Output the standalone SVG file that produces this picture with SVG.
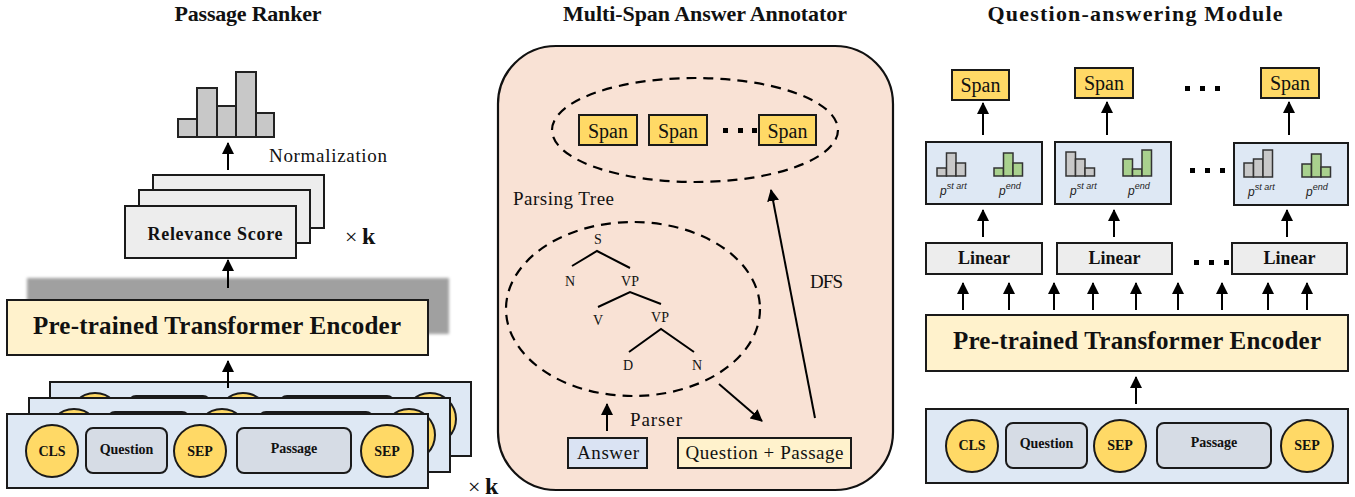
<svg xmlns="http://www.w3.org/2000/svg" width="1355" height="497" viewBox="0 0 1355 497">
<style>
  text { font-family: "Liberation Serif", "Times New Roman", serif; fill: #111; }
  .title { font-size: 22px; font-weight: bold; text-anchor: middle; }
  .enc { font-size: 25px; font-weight: bold; text-anchor: middle; }
  .bold15 { font-size: 18px; font-weight: bold; text-anchor: middle; }
  .lbl { font-size: 19px; }
  .tok { font-size: 14px; font-weight: bold; text-anchor: middle; }
  .tree { font-size: 14px; text-anchor: middle; }
  .span { font-size: 20px; text-anchor: middle; }
  .p { font-family: "Liberation Sans", Arial, sans-serif; font-style: italic; font-size: 12px; fill: #222; }
  .box { stroke: #1a1a1a; stroke-width: 2; }
  .yellow { fill: #FFD966; }
  .blue { fill: #DEE8F4; }
  .cream { fill: #FFF2CC; }
  .gray { fill: #EDEDED; }
  .tokrect { fill: #D6DCE5; stroke: #1a1a1a; stroke-width: 2; }
  .circ { fill: #FFD966; stroke: #1a1a1a; stroke-width: 2; }
  .arrow { stroke: #000; stroke-width: 2; fill: none; marker-end: url(#ah); }
  .dash { fill: none; stroke: #000; stroke-width: 2.2; stroke-dasharray: 10 7; }
  .gbar { fill: #C8C8C8; stroke: #333; stroke-width: 1.5; }
  .grbar { fill: #A9D18E; stroke: #333; stroke-width: 1.5; }
  .hbar { fill: #C8C8C8; stroke: #222; stroke-width: 2; }
  .dot { fill: #000; }
</style>
<defs>
  <marker id="ah" viewBox="0 0 12 12" markerWidth="12" markerHeight="12" refX="11" refY="6" orient="auto" markerUnits="userSpaceOnUse">
    <path d="M0,0 L12,6 L0,12 z" fill="#000"/>
  </marker>
  <filter id="blur" x="-10%" y="-30%" width="120%" height="160%">
    <feGaussianBlur stdDeviation="1.5"/>
  </filter>
  <g id="row">
    <circle class="circ" cx="45" cy="37" r="26"/>
    <rect class="tokrect" x="79" y="14" width="81" height="45" rx="7"/>
    <circle class="circ" cx="193" cy="37" r="26"/>
    <rect class="tokrect" x="230" y="14" width="114" height="45" rx="7"/>
    <circle class="circ" cx="380" cy="37" r="26"/>
  </g>
</defs>

<!-- Titles -->
<text class="title" x="248" y="21" textLength="147">Passage Ranker</text>
<text class="title" x="705" y="21" textLength="284">Multi-Span Answer Annotator</text>
<text class="title" x="1135" y="21" textLength="295">Question-answering Module</text>

<!-- ===== Left: Passage Ranker ===== -->
<g id="histogram">
  <rect class="hbar" x="178" y="119" width="19" height="18"/>
  <rect class="hbar" x="197" y="88" width="20" height="49"/>
  <rect class="hbar" x="217" y="106" width="19" height="31"/>
  <rect class="hbar" x="236" y="72" width="20" height="65"/>
  <rect class="hbar" x="256" y="113" width="18" height="24"/>
</g>
<text class="lbl" x="269" y="162" textLength="118">Normalization</text>

<g id="relevance">
  <rect class="box gray" x="153" y="175" width="171" height="53"/>
  <rect class="box gray" x="139" y="190" width="171" height="53"/>
  <rect class="box gray" x="125" y="206" width="171" height="52"/>
  <text class="bold15" x="215" y="240" textLength="135">Relevance Score</text>
</g>
<text x="345" y="244" style="font-size:22px">×</text>
<text x="362" y="244" style="font-size:24px;font-weight:bold">k</text>

<rect x="27" y="278" width="422" height="56" fill="#A0A0A0" filter="url(#blur)"/>
<g id="encoder-left">
  <rect class="box cream" x="7" y="300" width="421" height="55"/>
  <text class="enc" x="217" y="334" textLength="368">Pre-trained Transformer Encoder</text>
</g>

<g id="input-left">
  <g transform="translate(50,382)">
    <rect class="box blue" x="0" y="0" width="421" height="74"/>
    <use href="#row"/>
  </g>
  <g transform="translate(29,398)">
    <rect class="box blue" x="0" y="0" width="421" height="74"/>
    <use href="#row"/>
  </g>
  <g transform="translate(7,414)">
    <rect class="box blue" x="0" y="0" width="421" height="74"/>
    <use href="#row"/>
    <text class="tok" x="45" y="42">CLS</text>
    <text class="tok" x="119.5" y="40">Question</text>
    <text class="tok" x="193" y="42">SEP</text>
    <text class="tok" x="287" y="39">Passage</text>
    <text class="tok" x="380" y="42">SEP</text>
  </g>
</g>
<text x="468" y="494" style="font-size:22px">×</text>
<text x="485" y="494" style="font-size:24px;font-weight:bold">k</text>

<!-- ===== Middle: Multi-Span Answer Annotator ===== -->
<g id="annotator">
  <rect x="498" y="46" width="395" height="444" rx="58" fill="#F9E2D5" stroke="#111" stroke-width="2.2"/>
</g>
<g id="spans">
  <ellipse class="dash" cx="695" cy="130" rx="143" ry="52"/>
  <rect class="box yellow" x="579" y="115" width="58" height="30"/>
  <text class="span" x="608" y="138">Span</text>
  <rect class="box yellow" x="649" y="115" width="58" height="30"/>
  <text class="span" x="678" y="138">Span</text>
  <rect class="dot" x="723" y="128" width="5" height="5"/>
  <rect class="dot" x="738" y="128" width="5" height="5"/>
  <rect class="dot" x="752" y="128" width="5" height="5"/>
  <rect class="box yellow" x="759" y="115" width="57" height="30"/>
  <text class="span" x="787.5" y="138">Span</text>
</g>
<text class="lbl" x="513" y="205" textLength="101">Parsing Tree</text>
<g id="tree">
  <ellipse class="dash" cx="633" cy="309" rx="127" ry="87"/>
  <text class="tree" x="598" y="244">S</text>
  <path d="M572,266 L597,251 L630,268" fill="none" stroke="#000" stroke-width="2"/>
  <text class="tree" x="570" y="286">N</text>
  <text class="tree" x="630" y="286">VP</text>
  <path d="M598,307 L630,292 L661,304" fill="none" stroke="#000" stroke-width="2"/>
  <text class="tree" x="598" y="325">V</text>
  <text class="tree" x="660" y="322">VP</text>
  <path d="M629,352 L661,329 L694,352" fill="none" stroke="#000" stroke-width="2"/>
  <text class="tree" x="628" y="370">D</text>
  <text class="tree" x="697" y="370">N</text>
</g>
<text class="lbl" x="810" y="288" textLength="33">DFS</text>
<text class="lbl" x="630" y="426" textLength="52">Parser</text>
<g id="answer">
  <rect class="box" fill="#DAE3F3" x="568" y="438" width="79" height="30"/>
  <text class="lbl" x="608" y="459" text-anchor="middle" textLength="62">Answer</text>
</g>
<g id="qp">
  <rect class="box cream" x="678" y="438" width="173" height="30"/>
  <text class="lbl" x="764.5" y="459" text-anchor="middle" textLength="158">Question + Passage</text>
</g>

<!-- ===== Right: QA module ===== -->
<g id="span-r1"><rect class="box yellow" x="952" y="70" width="57" height="30"/><text class="span" x="980.5" y="92">Span</text></g>
<g id="span-r2"><rect class="box yellow" x="1075" y="68" width="58" height="30"/><text class="span" x="1104" y="90">Span</text></g>
<g id="span-r3"><rect class="box yellow" x="1261" y="68" width="58" height="30"/><text class="span" x="1290" y="90">Span</text></g>
<rect class="dot" x="1185" y="86" width="5" height="5"/>
<rect class="dot" x="1200" y="86" width="5" height="5"/>
<rect class="dot" x="1215" y="86" width="5" height="5"/>

<g id="prob1">
  <rect class="box blue" x="926" y="142" width="116" height="62"/>
  <rect class="gbar" x="937" y="168" width="9.5" height="8"/>
  <rect class="gbar" x="946.5" y="153" width="9.5" height="23"/>
  <rect class="gbar" x="956" y="163" width="9.5" height="13"/>
  <rect class="grbar" x="994" y="168" width="9.5" height="8"/>
  <rect class="grbar" x="1003.5" y="153" width="9.5" height="23"/>
  <rect class="grbar" x="1013" y="163" width="9.5" height="13"/>
  <text class="p" x="940" y="195">p<tspan dy="-6" font-size="9">st art</tspan></text>
  <text class="p" x="999" y="195">p<tspan dy="-6" font-size="9">end</tspan></text>
</g>
<g id="prob2">
  <rect class="box blue" x="1055" y="142" width="116" height="62"/>
  <rect class="gbar" x="1066" y="152" width="9.5" height="24"/>
  <rect class="gbar" x="1075.5" y="159" width="9.5" height="17"/>
  <rect class="gbar" x="1085" y="168" width="9.5" height="8"/>
  <rect class="grbar" x="1123" y="159" width="9.5" height="17"/>
  <rect class="grbar" x="1132.5" y="169" width="9.5" height="7"/>
  <rect class="grbar" x="1142" y="150" width="9.5" height="26"/>
  <text class="p" x="1070" y="195">p<tspan dy="-6" font-size="9">st art</tspan></text>
  <text class="p" x="1128" y="195">p<tspan dy="-6" font-size="9">end</tspan></text>
</g>
<rect class="dot" x="1190" y="168" width="5" height="5"/>
<rect class="dot" x="1205" y="168" width="5" height="5"/>
<rect class="dot" x="1220" y="168" width="5" height="5"/>
<g id="prob3">
  <rect class="box blue" x="1234" y="143" width="114" height="62"/>
  <rect class="gbar" x="1244" y="163" width="9.5" height="14"/>
  <rect class="gbar" x="1253.5" y="159" width="9.5" height="18"/>
  <rect class="gbar" x="1263" y="150" width="9.5" height="27"/>
  <rect class="grbar" x="1302" y="164" width="9.5" height="13"/>
  <rect class="grbar" x="1311.5" y="154" width="9.5" height="23"/>
  <rect class="grbar" x="1321" y="167" width="9.5" height="10"/>
  <text class="p" x="1248" y="196">p<tspan dy="-6" font-size="9">st art</tspan></text>
  <text class="p" x="1306" y="196">p<tspan dy="-6" font-size="9">end</tspan></text>
</g>

<g id="linear1"><rect class="box gray" x="926" y="243" width="116" height="31"/><text class="bold15" x="984" y="264">Linear</text></g>
<g id="linear2"><rect class="box gray" x="1057" y="243" width="115" height="31"/><text class="bold15" x="1114.5" y="264">Linear</text></g>
<rect class="dot" x="1194" y="260" width="5" height="5"/>
<rect class="dot" x="1209" y="260" width="5" height="5"/>
<rect class="dot" x="1224" y="260" width="5" height="5"/>
<g id="linear3"><rect class="box gray" x="1232" y="243" width="115" height="31"/><text class="bold15" x="1289.5" y="264">Linear</text></g>

<g id="encoder-right">
  <rect class="box cream" x="926" y="315" width="422" height="56"/>
  <text class="enc" x="1137" y="349" textLength="368">Pre-trained Transformer Encoder</text>
</g>

<g id="input-right" transform="translate(926,409)">
  <rect class="box blue" x="0" y="0" width="422" height="74"/>
  <use href="#row" transform="translate(1,0)"/>
  <text class="tok" x="46" y="41">CLS</text>
  <text class="tok" x="120.5" y="39">Question</text>
  <text class="tok" x="194" y="41">SEP</text>
  <text class="tok" x="288" y="38">Passage</text>
  <text class="tok" x="381" y="41">SEP</text>
</g>

<!-- ===== Connectors ===== -->
<g id="connectors">
  <line class="arrow" x1="228" y1="170" x2="228" y2="143"/>
  <line class="arrow" x1="228" y1="288" x2="228" y2="260"/>
  <line class="arrow" x1="228" y1="388" x2="228" y2="361"/>
  <line class="arrow" x1="719" y1="384" x2="762" y2="421"/>
  <line class="arrow" x1="607" y1="431" x2="607" y2="404"/>
  <line class="arrow" x1="815" y1="418" x2="771" y2="190"/>
  <line class="arrow" x1="983" y1="135" x2="983" y2="103"/>
  <line class="arrow" x1="1107" y1="135" x2="1107" y2="102"/>
  <line class="arrow" x1="1289" y1="135" x2="1289" y2="102"/>
  <line class="arrow" x1="983" y1="237" x2="983" y2="210"/>
  <line class="arrow" x1="1114" y1="237" x2="1114" y2="210"/>
  <line class="arrow" x1="1287" y1="237" x2="1287" y2="210"/>
  <line class="arrow" x1="963" y1="310" x2="963" y2="283"/>
  <line class="arrow" x1="1009" y1="310" x2="1009" y2="283"/>
  <line class="arrow" x1="1054" y1="310" x2="1054" y2="283"/>
  <line class="arrow" x1="1093" y1="310" x2="1093" y2="283"/>
  <line class="arrow" x1="1136" y1="310" x2="1136" y2="283"/>
  <line class="arrow" x1="1178" y1="310" x2="1178" y2="283"/>
  <line class="arrow" x1="1222" y1="310" x2="1222" y2="283"/>
  <line class="arrow" x1="1268" y1="310" x2="1268" y2="283"/>
  <line class="arrow" x1="1307" y1="310" x2="1307" y2="283"/>
  <line class="arrow" x1="1136" y1="404" x2="1136" y2="377"/>
</g>
</svg>
